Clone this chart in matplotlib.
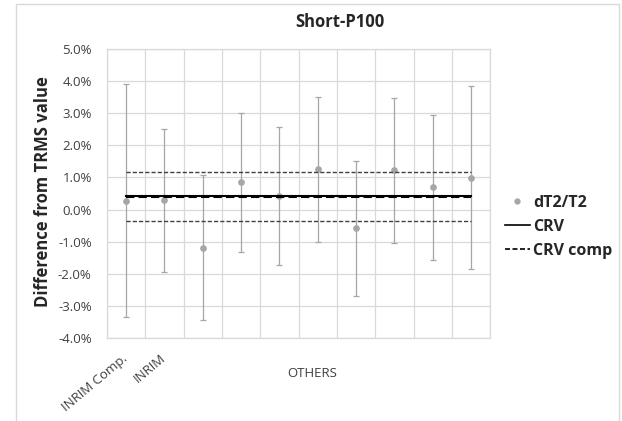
import matplotlib.pyplot as plt
from matplotlib.lines import Line2D
from matplotlib.patches import Rectangle
from matplotlib.ticker import FuncFormatter, MultipleLocator

plt.rcParams["font.family"] = ["Open Sans", "DejaVu Sans"]

# data (percent)
positions = [1, 2, 3, 4, 5, 6, 7, 8, 9, 10]
dT2_T2 = [0.28, 0.29, -1.19, 0.85, 0.42, 1.25, -0.59, 1.22, 0.69, 0.99]
uncert = [3.62, 2.22, 2.25, 2.16, 2.14, 2.25, 2.09, 2.25, 2.25, 2.85]
tick_labels = ["INRIM Comp.", "INRIM", "", "", "", "", "", "", "", ""]
crv = 0.42
crv_comp = 0.40
crv_comp_upper = 1.16
crv_comp_lower = -0.35

GREY = "#a6a6a6"
GRID = "#d9d9d9"

fig = plt.figure(figsize=(6.22, 4.21), dpi=100)
ax = fig.add_axes([0.172, 0.197, 0.616, 0.687])

ax.errorbar(positions, dT2_T2, yerr=uncert, fmt="o", color=GREY, ms=3.8,
            elinewidth=0.9, capsize=2, capthick=0.9, zorder=3)

x_span = [positions[0], positions[-1]]
ax.plot(x_span, [crv, crv], color="black", lw=1.5, zorder=4)
ax.plot(x_span, [crv_comp, crv_comp], color="black", lw=1.5,
        ls=(0, (4, 2)), zorder=5)
ax.plot(x_span, [crv_comp_upper] * 2, color="#404040", lw=1.0,
        ls=(0, (3, 1.5)), zorder=4)
ax.plot(x_span, [crv_comp_lower] * 2, color="#404040", lw=1.0,
        ls=(0, (3, 1.5)), zorder=4)

ax.set_xlim(0.5, 10.5)
ax.set_ylim(-4.0, 5.0)
ax.yaxis.set_major_locator(MultipleLocator(1.0))
ax.yaxis.set_major_formatter(FuncFormatter(lambda v, p: f"{v:.1f}%"))
ax.set_xticks([p - 0.5 for p in positions] + [10.5], minor=False)
ax.set_xticklabels([])
ax.set_xticks([p - 0.12 for p in positions], minor=True)
ax.set_xticklabels(tick_labels, minor=True, rotation=40, ha="right",
                   rotation_mode="anchor", fontsize=9, color="#404040")
ax.tick_params(axis="both", which="both", length=0, labelsize=9.5,
               labelcolor="#404040")
ax.tick_params(axis="y", pad=11)
ax.tick_params(axis="x", which="minor", pad=10)
ax.grid(True, which="major", color=GRID, lw=0.9)
ax.set_axisbelow(True)
for s in ax.spines.values():
    s.set_color(GRID)
    s.set_linewidth(0.9)

fig.text(0.547, 0.948, "Short-P100", ha="center", va="center",
         fontsize=12, fontweight="bold", color="#262626")
fig.text(0.069, 0.544, "Difference from TRMS value", ha="center",
         va="center", rotation=90, fontsize=12, fontweight="bold",
         color="#262626")
fig.text(0.502, 0.114, "OTHERS", ha="center", va="center", fontsize=9.5,
         color="#404040")

handles = [
    Line2D([], [], ls="none", marker="o", color=GREY, ms=3.5),
    Line2D([], [], color="black", lw=1.2),
    Line2D([], [], color="black", lw=1.2, ls=(0, (3, 1.5))),
]
fig.legend(handles, ["dT2/T2", "CRV", "CRV comp"], loc="upper left",
           bbox_to_anchor=(0.812, 0.537), frameon=False, borderpad=0,
           borderaxespad=0, handlelength=1.55, handletextpad=0.2,
           labelspacing=0.5, prop={"size": 11.5, "weight": "bold"},
           labelcolor="#262626")

fig.patches.append(Rectangle((0.025, -0.01), 0.97, 1.0, transform=fig.transFigure,
                             fill=False, edgecolor=GRID, lw=1.0))

fig.savefig("out.png", dpi=100)
